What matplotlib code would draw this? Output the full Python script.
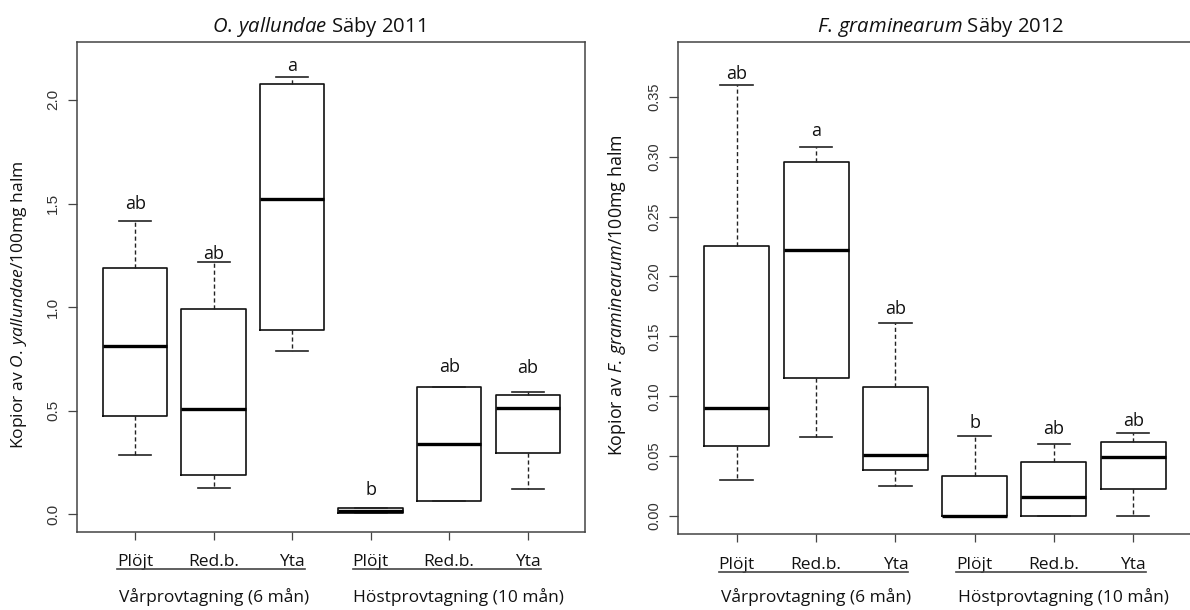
import matplotlib
matplotlib.use('Agg')
import matplotlib.pyplot as plt
import matplotlib.transforms as mtransforms
from matplotlib.lines import Line2D

plt.rcParams['font.family'] = ['Open Sans', 'DejaVu Sans']
plt.rcParams['mathtext.fontset'] = 'custom'
plt.rcParams['mathtext.rm'] = 'Open Sans'
plt.rcParams['mathtext.it'] = 'Open Sans:italic'

treatments = ['Plöjt', 'Red.b.', 'Yta', 'Plöjt', 'Red.b.', 'Yta']
seasons = ['Vårprovtagning (6 mån)', 'Höstprovtagning (10 mån)']
positions = [1, 2, 3, 4, 5, 6]

# O. yallundae, Säby 2011
oy_whislo = [0.285, 0.125, 0.790, 0.008, 0.064, 0.122]
oy_q1 = [0.474, 0.190, 0.889, 0.008, 0.064, 0.297]
oy_med = [0.814, 0.508, 1.522, 0.018, 0.338, 0.512]
oy_q3 = [1.187, 0.989, 2.077, 0.030, 0.613, 0.576]
oy_whishi = [1.417, 1.216, 2.109, 0.030, 0.613, 0.589]
oy_letters = ['ab', 'ab', 'a', 'b', 'ab', 'ab']
oy_letter_y = [1.472, 1.231, 2.141, 0.093, 0.685, 0.680]
oy_yticks = [0.0, 0.5, 1.0, 1.5, 2.0]

# F. graminearum, Säby 2012
fg_whislo = [0.0301, 0.0657, 0.0253, 0.0, 0.0, 0.0003]
fg_q1 = [0.0584, 0.1155, 0.0387, 0.0, 0.0, 0.0228]
fg_med = [0.0899, 0.2218, 0.0512, 0.0, 0.0156, 0.0493]
fg_q3 = [0.2257, 0.2953, 0.1080, 0.0337, 0.0454, 0.0618]
fg_whishi = [0.3599, 0.3084, 0.1609, 0.0671, 0.0601, 0.0690]
fg_letters = ['ab', 'a', 'ab', 'b', 'ab', 'ab']
fg_letter_y = [0.3646, 0.3173, 0.169, 0.0737, 0.0682, 0.0754]
fg_yticks = [0.0, 0.05, 0.10, 0.15, 0.20, 0.25, 0.30, 0.35]

W, H = 1190, 610
fig = plt.figure(figsize=(W / 100, H / 100), dpi=100)

panels = [
    dict(rect=[77.3 / W, 1 - 531.7 / H, 507.7 / W, 490.0 / H],
         ylim=(-0.084, 2.281), yticks=oy_yticks, fmt='{:.1f}', tsize=11,
         stats=(oy_whislo, oy_q1, oy_med, oy_q3, oy_whishi),
         letters=oy_letters, letter_y=oy_letter_y,
         title=r'$\mathit{O.\,yallundae}$ Säby 2011', title_x=0.476,
         ylabel=r'Kopior av $\mathit{O.\,yallundae}$/100mg halm',
         ysize=12.6, ylabel_xy=(-0.115, 0.464)),
    dict(rect=[678.3 / W, 1 - 534.3 / H, 512.8 / W, 492.6 / H],
         ylim=(-0.0153, 0.396), yticks=fg_yticks, fmt='{:.2f}', tsize=10.5,
         stats=(fg_whislo, fg_q1, fg_med, fg_q3, fg_whishi),
         letters=fg_letters, letter_y=fg_letter_y,
         title=r'$\mathit{F.\,graminearum}$ Säby 2012', title_x=0.512,
         ylabel=r'Kopior av $\mathit{F.\,graminearum}$/100mg halm',
         ysize=12.9, ylabel_xy=(-0.12, 0.486)),
]

axes = []
for p in panels:
    ax = fig.add_axes(p['rect'])
    lo, q1, med, q3, hi = p['stats']
    bstats = [dict(whislo=a, q1=b, med=c, q3=d, whishi=e, fliers=[])
              for a, b, c, d, e in zip(lo, q1, med, q3, hi)]
    ax.bxp(bstats, positions=positions, widths=0.82, showfliers=False,
           boxprops=dict(color='#111111', linewidth=1.2),
           medianprops=dict(color='#000000', linewidth=2.4,
                            solid_capstyle='butt'),
           whiskerprops=dict(color='#222222', linewidth=1.0,
                             linestyle=(0, (3, 2))),
           capprops=dict(color='#222222', linewidth=1.2))
    for x, lab, y in zip(positions, p['letters'], p['letter_y']):
        ax.text(x, y, lab, ha='center', va='baseline', fontsize=13,
                color='#111111')

    ax.set_xlim(0.263, 6.73)
    ax.set_ylim(*p['ylim'])
    ax.set_yticks(p['yticks'])
    ax.set_yticklabels([p['fmt'].format(v) for v in p['yticks']],
                       rotation=90, va='center', family='Liberation Sans',
                       fontsize=p['tsize'], color='#333333')
    ax.set_xticks(positions)
    ax.set_xticklabels(treatments, fontsize=12.5, color='#111111')
    ax.tick_params(axis='y', direction='out', length=6.5, width=0.9,
                   color='#444444', pad=6)
    ax.tick_params(axis='x', direction='out', length=6, width=0.9,
                   color='#444444', pad=10)
    for s in ax.spines.values():
        s.set_color('#444444')
        s.set_linewidth(1.1)

    ax.text(p['title_x'], 1.0204, p['title'], transform=ax.transAxes,
            ha='center', va='baseline', fontsize=14.6, color='#111111')
    ax.text(p['ylabel_xy'][0], p['ylabel_xy'][1], p['ylabel'],
            transform=ax.transAxes, rotation=90, rotation_mode='anchor',
            ha='center', va='center', fontsize=p['ysize'], color='#111111')

    tr = mtransforms.blended_transform_factory(ax.transData, fig.transFigure)
    for gx, name in zip([2.0, 5.12], seasons):
        ax.text(gx, 7.5 / H, name, transform=tr, ha='center', va='baseline',
                fontsize=12.5, color='#111111')
    axes.append(ax)

# underline each group of treatment labels
fig.canvas.draw()
for ax in axes:
    labs = ax.get_xticklabels()
    for grp in [(0, 3), (3, 6)]:
        bbs = [labs[i].get_window_extent() for i in range(*grp)]
        x0 = bbs[0].x0
        x1 = bbs[-1].x1
        y = min(b.y0 for b in bbs) + 1
        fig.add_artist(Line2D([x0 / W, x1 / W], [y / H, y / H],
                              transform=fig.transFigure,
                              color='#444444', linewidth=1.2))

fig.savefig('out.png', dpi=100)
